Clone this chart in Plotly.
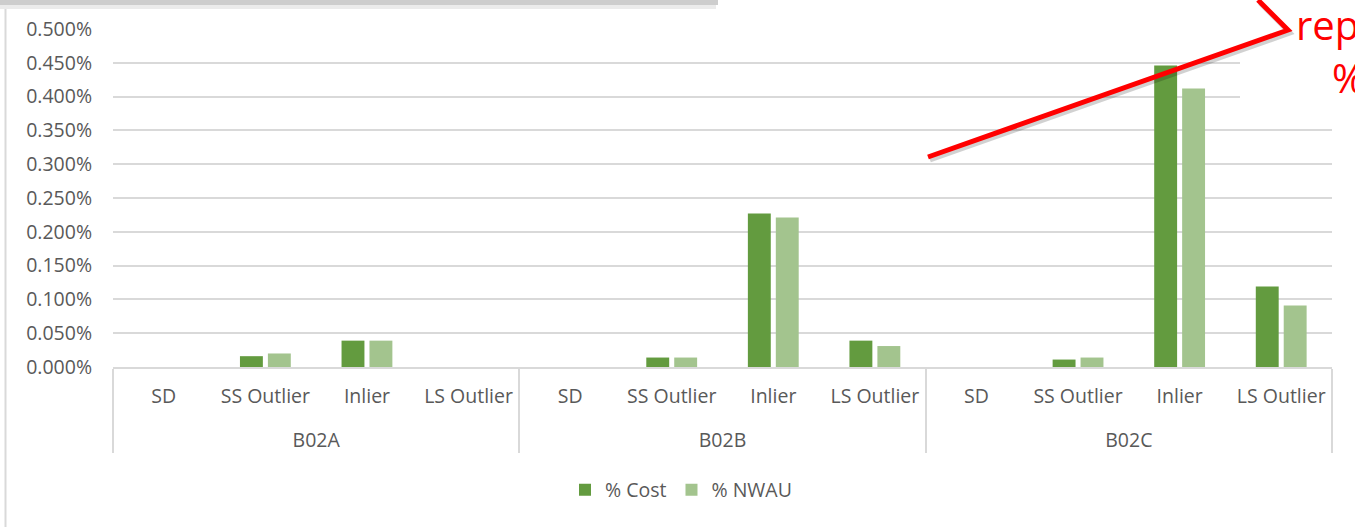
import plotly.graph_objects as go

# data (fractions, shown as %)
groups = ["B02A"] * 4 + ["B02B"] * 4 + ["B02C"] * 4
categories = ["SD", "SS Outlier", "Inlier", "LS Outlier"] * 3
pct_cost = [0, 0.00016, 0.00039, 0,
            0, 0.00014, 0.00227, 0.00039,
            0, 0.00011, 0.00446, 0.00119]
pct_nwau = [0, 0.00020, 0.00039, 0,
            0, 0.00014, 0.00221, 0.00031,
            0, 0.00014, 0.00412, 0.00091]
y_ticks = [i * 0.0005 for i in range(11)]

FONT = "Open Sans"
GREY = "#595959"
LINE = "#d9d9d9"

# the outer level sits one line lower, like the Excel axis box
group_labels = ["<br>" + g for g in groups]

fig = go.Figure()
fig.add_trace(go.Bar(x=[group_labels, categories], y=pct_cost, name="% Cost",
                     marker=dict(color="#639b3f", line=dict(width=0))))
fig.add_trace(go.Bar(x=[group_labels, categories], y=pct_nwau, name="% NWAU",
                     marker=dict(color="#a3c48e", line=dict(width=0))))

# plot area is 113..1332 px wide, 29..367 px tall
W, L = 1219, 113
H, B = 338, 367
def px(x):
    return (x - L) / W
def py(y):
    return (B - y) / H

shapes = [
    # box shadow at the top and the chart border on the left
    dict(type="rect", xref="paper", yref="paper", x0=px(-5), x1=px(718), y0=py(5), y1=py(-5),
         fillcolor="#cdcdcd", line=dict(width=0), layer="above"),
    dict(type="rect", xref="paper", yref="paper", x0=px(-5), x1=px(716), y0=py(9), y1=py(5),
         fillcolor="#ebebeb", line=dict(width=0), layer="above"),
    dict(type="line", xref="paper", yref="paper", x0=px(5.5), x1=px(5.5), y0=py(530), y1=py(9),
         line=dict(color=LINE, width=2), layer="above"),
    # white text box of the callout
    dict(type="rect", xref="paper", yref="paper", x0=px(1240), x1=px(1360), y0=py(115), y1=py(-5),
         fillcolor="white", line=dict(width=0), layer="above"),
    # callout arrow with a soft shadow
    dict(type="path", xref="paper", yref="paper",
         path="M {},{} L {},{} L {},{}".format(px(930), py(160), px(1290), py(33), px(1260), py(3)),
         line=dict(color="rgba(0,0,0,0.18)", width=5), layer="above"),
    dict(type="path", xref="paper", yref="paper",
         path="M {},{} L {},{} L {},{}".format(px(928), py(157), px(1288), py(30), px(1258), py(0)),
         line=dict(color="#ff0000", width=5), layer="above"),
]

annotations = [
    dict(text="rep", xref="paper", yref="paper", x=px(1294), y=py(24), xanchor="left",
         yanchor="middle", showarrow=False, font=dict(family=FONT, size=40, color="#ff0000")),
    dict(text="%", xref="paper", yref="paper", x=px(1330), y=py(78), xanchor="left",
         yanchor="middle", showarrow=False, font=dict(family=FONT, size=40, color="#ff0000")),
]

fig.update_layout(
    width=1355, height=527,
    margin=dict(l=L, r=1355 - L - W, t=B - H, b=527 - B),
    paper_bgcolor="white", plot_bgcolor="white",
    font=dict(family=FONT, size=19.5, color=GREY),
    barmode="group", bargap=0.45, bargroupgap=0.18,
    showlegend=True,
    legend=dict(orientation="h", x=px(565), xanchor="left", y=py(490), yanchor="middle",
                font=dict(family=FONT, size=19.5, color=GREY), itemclick=False),
    shapes=shapes,
    annotations=annotations,
)
fig.update_yaxes(range=[0, 0.005], tickvals=y_ticks, tickformat=".3%",
                 showgrid=True, gridcolor=LINE, gridwidth=1.5,
                 zeroline=False, showline=False, ticks="", ticklabelstandoff=20)
fig.update_xaxes(type="multicategory", showline=True, linecolor=LINE, linewidth=1.5,
                 showgrid=False, ticks="", ticklabelstandoff=11,
                 showdividers=True, dividercolor=LINE, dividerwidth=1.5)

# page body margin would shift the figure by 8px
fig.write_html("out.html", config={"displayModeBar": False},
               post_script="document.body.style.margin='0';")
